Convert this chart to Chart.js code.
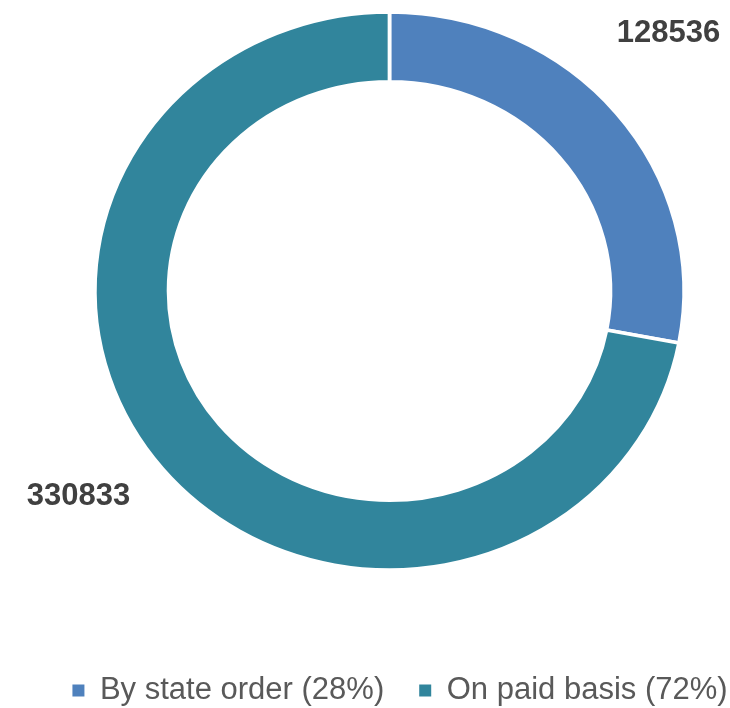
<!DOCTYPE html>
<html>
<head>
<meta charset="utf-8">
<script src="https://cdn.jsdelivr.net/npm/chart.js@4"></script>
<style>
  html, body { margin: 0; padding: 0; background: #fff; }
</style>
</head>
<body>
<canvas id="myChart" width="730" height="708"></canvas>
<script>
var categories = ['By state order', 'On paid basis'];
var students = [128536, 330833];
var percents = [28, 72];
var colors = ['#4F81BD', '#31859C'];

// the original ring is a bit wider than tall, so we stretch it into place
var ringCenter = {x: 389.5, y: 291};
var ringStretch = {x: 292.5 / 277, y: 1};
var labelOffset = {x: -16, y: -26};

var legendLabels = categories.map(function(c, i) {
    return c + ' (' + percents[i] + '%)';
});

var ellipsePlugin = {
    id: 'ellipse',
    beforeDatasetsDraw: function(chart) {
        var arc = chart.getDatasetMeta(0).data[0];
        var ctx = chart.ctx;
        ctx.save();
        ctx.translate(ringCenter.x, ringCenter.y);
        ctx.scale(ringStretch.x, ringStretch.y);
        ctx.translate(-arc.x, -arc.y);
    },
    afterDatasetsDraw: function(chart) {
        var ctx = chart.ctx;
        ctx.restore();

        // value labels outside the ring
        var meta = chart.getDatasetMeta(0);
        ctx.save();
        ctx.font = 'bold 31px "Liberation Sans", Arial, sans-serif';
        ctx.fillStyle = '#404040';
        ctx.textAlign = 'center';
        ctx.textBaseline = 'middle';
        meta.data.forEach(function(arc, i) {
            var mid = (arc.startAngle + arc.endAngle) / 2;
            var r = 277 * 1.31;
            var x = ringCenter.x + Math.cos(mid) * r * ringStretch.x + labelOffset.x;
            var y = ringCenter.y + Math.sin(mid) * r * ringStretch.y + labelOffset.y;
            ctx.fillText(String(students[i]), x, y);
        });
        ctx.restore();
    }
};

window.onload = function() {
    var ctx = document.getElementById('myChart');
    var chart = new Chart(ctx, {
        type: 'doughnut',
        data: {
            labels: legendLabels,
            datasets: [{
                data: students,
                backgroundColor: colors,
                borderColor: '#ffffff',
                borderWidth: 3.5,
                radius: 279,
                cutout: '75%'
            }]
        },
        options: {
            responsive: false,
            animation: false,
            devicePixelRatio: 1,
            events: [],
            layout: { padding: { top: 0, left: 30, right: -40, bottom: -8 } },
            plugins: {
                tooltip: { enabled: false },
                legend: {
                    position: 'bottom',
                    labels: {
                        boxWidth: 12,
                        boxHeight: 12,
                        padding: 35,
                        color: '#595959',
                        font: { family: '"Liberation Sans", Arial, sans-serif', size: 31 },
                        generateLabels: function(chart) {
                            var items = Chart.controllers.doughnut.overrides.plugins.legend.labels.generateLabels(chart);
                            items.forEach(function(it) { it.lineWidth = 0; });
                            return items;
                        }
                    }
                }
            }
        },
        plugins: [ellipsePlugin]
    });
};
</script>
</body>
</html>
